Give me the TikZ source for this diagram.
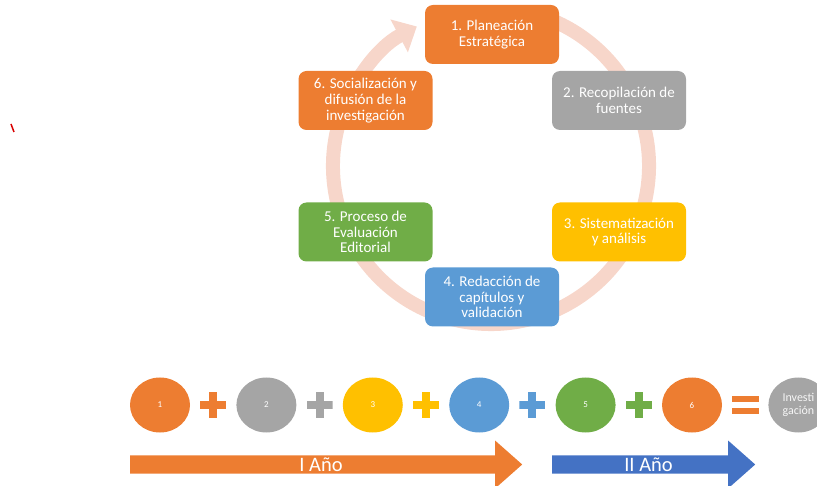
\documentclass[tikz,border=0pt]{standalone}
\usepackage{fontspec}
\setmainfont{Carlito}
\usetikzlibrary{positioning, shapes.geometric, shapes.arrows, arrows.meta}
\definecolor{naranja}{HTML}{ED7D31}
\definecolor{gris}{HTML}{A5A5A5}
\definecolor{amarillo}{HTML}{FFC000}
\definecolor{celeste}{HTML}{5B9BD5}
\definecolor{verde}{HTML}{70AD47}
\definecolor{azul}{HTML}{4472C4}
\definecolor{rosa}{HTML}{F7D6CA}
\tikzset{
node distance=53.2pt, % centre to centre along the bottom row
paso/.style={rounded corners=8pt, minimum width=134pt, minimum height=59pt, inner sep=2pt, text=white, align=center, font=\fontsize{15}{15.8}\selectfont}, % boxes of the cycle
circulo/.style={ellipse, minimum width=60pt, minimum height=55pt, inner sep=0pt, text=white, font=\fontsize{9}{10}\selectfont}, % numbered circles
mas/.style={minimum size=26pt, inner sep=0pt, path picture={
  \fill[#1] ([shift={(-13pt,-4pt)}]path picture bounding box.center) rectangle ([shift={(13pt,4pt)}]path picture bounding box.center);
  \fill[#1] ([shift={(-4pt,-13pt)}]path picture bounding box.center) rectangle ([shift={(4pt,13pt)}]path picture bounding box.center);}}, % plus signs
igual/.style={minimum size=28pt, inner sep=0pt, path picture={
  \fill[#1] ([shift={(-13.5pt,3pt)}]path picture bounding box.center) rectangle ([shift={(13.5pt,9pt)}]path picture bounding box.center);
  \fill[#1] ([shift={(-13.5pt,-3pt)}]path picture bounding box.center) rectangle ([shift={(13.5pt,-9pt)}]path picture bounding box.center);}}, % equals sign
flecha/.style={single arrow, single arrow head extend=11.5pt, single arrow tip angle=83, minimum width=48pt, inner sep=0pt, text=white, font=\fontsize{20.5}{24}\selectfont}, % year arrows
}
\begin{document}
\begin{tikzpicture}[x=1pt, y=-1pt]
\useasboundingbox (0,0) rectangle (817,486);

% the cycle
\draw[rosa, line width=14pt, -{Triangle[width=36pt, length=20pt]}] (491,166) ++(-75:158) arc[start angle=-75, end angle=242, radius=158];
\node[paso, fill=naranja] (p1) at (492,34.5) {1. Planeación\\Estratégica};
\node[paso, fill=gris] (p2) at (619,100.5) {2. Recopilación de\\fuentes};
\node[paso, fill=amarillo] (p3) at (619,232) {3. Sistematización\\y análisis};
\node[paso, fill=celeste] (p4) at (492,297) {4. Redacción de\\capítulos y\\validación};
\node[paso, fill=verde] (p5) at (365.5,232) {5. Proceso de\\Evaluación\\Editorial};
\node[paso, fill=naranja] (p6) at (365.5,100.5) {6. Socialización y\\difusión de la\\investigación};

% the sum
\node[circulo, fill=naranja] (c1) at (160,405) {1};
\node[mas=naranja, right of=c1] (s1) {};
\node[circulo, fill=gris, right of=s1] (c2) {2};
\node[mas=gris, right of=c2] (s2) {};
\node[circulo, fill=amarillo, right of=s2] (c3) {3};
\node[mas=amarillo, right of=c3] (s3) {};
\node[circulo, fill=celeste, right of=s3] (c4) {4};
\node[mas=celeste, right of=c4] (s4) {};
\node[circulo, fill=verde, right of=s4] (c5) {5};
\node[mas=verde, right of=c5] (s5) {};
\node[circulo, fill=naranja, right of=s5] (c6) {6};
\node[igual=naranja, right of=c6] (eq) {};
\node[circulo, fill=gris, right of=eq, align=center, text=white!90!gris, font=\fontsize{12}{13}\selectfont] (inv) {Investi\\gación};

% the years
\node[flecha, fill=naranja, minimum height=392pt, anchor=tail] (a1) at (130,464.5) {I Año};
\node[flecha, fill=azul, minimum height=203pt, anchor=tail] (a2) at (552,464.5) {II Año};

\draw[red!85!black, line width=1.5pt] (11,124) -- (14,132);
\end{tikzpicture}
\end{document}
